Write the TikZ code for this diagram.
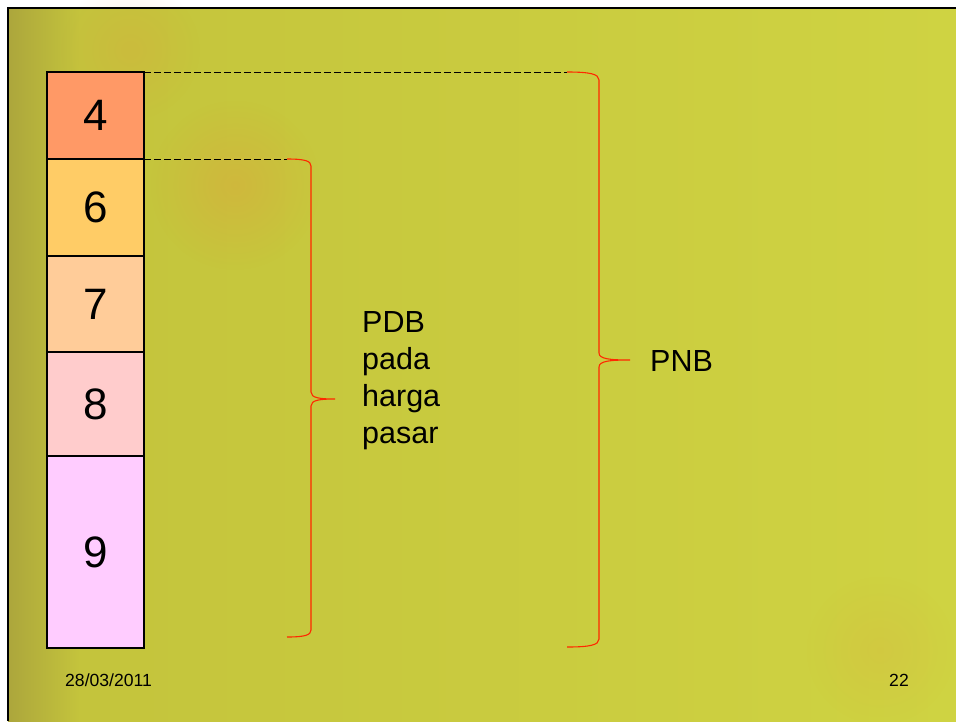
\documentclass[tikz,border=0pt]{standalone}
\usepackage{fontspec}
\setmainfont{Liberation Sans}
\usetikzlibrary{fadings}
\tikzfading[name=blobfade, inner color=transparent!0, outer color=transparent!100]
\definecolor{bgL}{RGB}{172,166,60}
\definecolor{bgM}{RGB}{196,196,60}
\definecolor{bgR}{RGB}{207,211,66}
\definecolor{cFour}{HTML}{FF9966}
\definecolor{cSix}{HTML}{FFCC66}
\definecolor{cSeven}{HTML}{FFCC99}
\definecolor{cEight}{HTML}{FFCCCC}
\definecolor{cNine}{HTML}{FFCCFF}
\definecolor{braceRed}{RGB}{255,40,0}
\definecolor{artOrange}{RGB}{235,140,60}
\begin{document}
\begin{tikzpicture}[x=1pt,y=-1pt,
  box/.style={draw=black, line width=2.8pt, minimum width=97pt, inner sep=0pt,
              outer sep=0pt, font=\fontsize{44}{44}\selectfont},
  bracepath/.style={draw=braceRed, line width=1.1pt},
  guide/.style={draw=black, line width=1pt, dash pattern=on 7pt off 3pt},
  lbl/.style={font=\fontsize{30.5}{37}\selectfont, inner sep=0pt, align=left},
  foot/.style={font=\fontsize{17.6}{18}\selectfont, inner sep=0pt}]
\useasboundingbox (0,0) rectangle (956,721);
\fill[white] (0,0) rectangle (956,721);
% slide background
\shade[left color=bgL, right color=bgM] (8,8) rectangle (80,721);
\shade[left color=bgM, right color=bgR] (80,8) rectangle (956,721);
% faint background art
\fill[artOrange, opacity=0.25, path fading=blobfade] (235,185) circle (85pt);
\fill[artOrange, opacity=0.16, path fading=blobfade] (130,50) circle (70pt);
\fill[artOrange, opacity=0.12, path fading=blobfade] (880,650) circle (75pt);
\draw[black, line width=2.5pt] (8,721) -- (8,8) -- (956,8);

% boxes
\node[box, fill=cFour,  minimum height=87pt]  (b4) at (95.5,115.5) {4};
\node[box, fill=cSix,   minimum height=97pt]  (b6) at (95.5,207.5) {6};
\node[box, fill=cSeven, minimum height=96pt]  (b7) at (95.5,304)   {7};
\node[box, fill=cEight, minimum height=104pt] (b8) at (95.5,404)   {8};
\node[box, fill=cNine,  minimum height=192pt] (b9) at (95.5,552)   {9};

% brace ends
\coordinate (pnbTop) at (567,72);
\coordinate (pnbBot) at (567,647);
\coordinate (pnbTip) at (630,360);
\coordinate (pdbTop) at (287,159);
\coordinate (pdbBot) at (287,637);
\coordinate (pdbTip) at (335,399);

% dashed guides
\draw[guide] (b4.north east) -- (pnbTop);
\draw[guide] (b6.north east) -- (pdbTop);

% braces
\draw[bracepath] (pnbTop) .. controls (590,72) and (599,74) .. (599,80)
  -- (599,353) .. controls (599,359) and (610,360) .. (pnbTip)
  .. controls (610,360) and (599,361) .. (599,367)
  -- (599,639) .. controls (599,645) and (590,647) .. (pnbBot);
\draw[bracepath] (pdbTop) .. controls (305,159) and (311,161) .. (311,166)
  -- (311,392) .. controls (311,398) and (320,399) .. (pdbTip)
  .. controls (320,399) and (311,400) .. (311,406)
  -- (311,630) .. controls (311,635) and (305,637) .. (pdbBot);

% labels
\node[lbl, anchor=base west] (pdb) at (362,443) {PDB\\pada\\harga\\pasar};
\node[lbl, anchor=base west] (pnb) at (650,371) {PNB};

% footer
\node[foot, anchor=base west] (date) at (65,686) {28/03/2011};
\node[foot, anchor=base east] (page) at (909,686) {22};
\end{tikzpicture}
\end{document}
